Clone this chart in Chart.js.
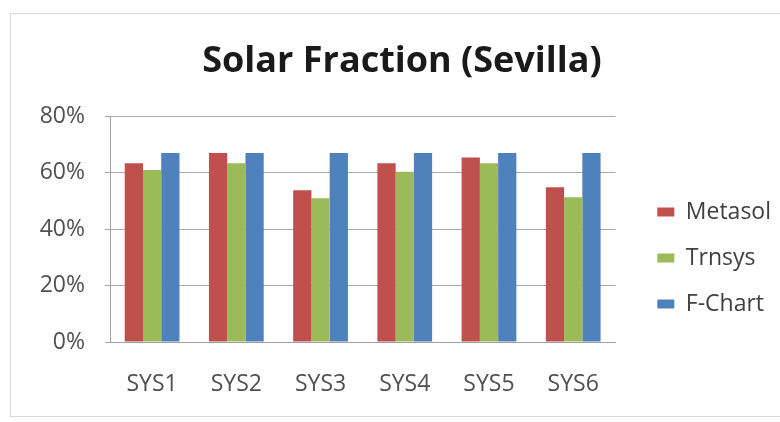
<!DOCTYPE html>
<html>
<head>
<meta charset="utf-8">
<script src="https://cdn.jsdelivr.net/npm/chart.js@4.4.1/dist/chart.umd.min.js"></script>
<style>
  html, body { margin: 0; padding: 0; background: #ffffff; }
  #wrap { position: relative; width: 780px; height: 422px; overflow: hidden; }
  #frame { position: absolute; left: 10px; top: 13px; width: 800px; height: 404px; border: 1px solid #d9d9d9; box-sizing: border-box; }
  #c { position: absolute; left: 0; top: 0; }
</style>
</head>
<body>
<div id="wrap">
  <div id="frame"></div>
  <canvas id="c" width="780" height="422"></canvas>
</div>
<script>
// Solar fraction per system, in percent
const systems = ['SYS1', 'SYS2', 'SYS3', 'SYS4', 'SYS5', 'SYS6'];
const metasol = [63.3, 67, 53.8, 63.3, 65.4, 54.8];
const trnsys = [60.9, 63.3, 50.9, 60.3, 63.3, 51.3];
const fChart = [67, 67, 67, 67, 67, 67];
const yTicks = [0, 20, 40, 60, 80];

const FONT = "'Open Sans', Lato, sans-serif";

// Fine placement of the title and the legend column after layout
const blockOffsets = {
  id: 'blockOffsets',
  afterLayout(chart) {
    const lg = chart.legend;
    if (lg) { lg.left += 19; lg.right += 19; }
    const tb = chart.titleBlock;
    if (tb) { tb.left += 8; tb.right += 8; }
  }
};

new Chart(document.getElementById('c'), {
  type: 'bar',
  data: {
    labels: systems,
    datasets: [
      { label: 'Metasol', data: metasol, backgroundColor: '#C0504D' },
      { label: 'Trnsys', data: trnsys, backgroundColor: '#9BBB59' },
      { label: 'F-Chart', data: fChart, backgroundColor: '#4F81BD' }
    ]
  },
  plugins: [blockOffsets],
  options: {
    responsive: false,
    animation: false,
    devicePixelRatio: 1,
    layout: { padding: { left: 26, right: 18, top: 0, bottom: 25 } },
    datasets: { bar: { categoryPercentage: 0.65, barPercentage: 1.0 } },
    plugins: {
      tooltip: { enabled: false },
      title: {
        display: true,
        text: 'Solar Fraction (Sevilla)',
        color: '#1a1a1a',
        font: { family: FONT, size: 36, weight: 'bold', lineHeight: 1.2 },
        padding: { top: 40, bottom: 33 }
      },
      legend: {
        position: 'right',
        title: { display: true, text: ' ', font: { size: 20, lineHeight: 1.2 }, padding: { top: 47, bottom: 48 } },
        labels: {
          boxWidth: 17,
          boxHeight: 9,
          padding: 23,
          color: '#404040',
          font: { family: FONT, size: 23 }
        }
      }
    },
    scales: {
      x: {
        afterFit: (scale) => { scale.height = 55; },
        grid: { display: false, drawTicks: false },
        border: { display: true, color: '#a0a0a0', width: 1 },
        ticks: { color: '#505050', font: { family: FONT, size: 23 }, padding: 29 }
      },
      y: {
        min: 0,
        max: 80,
        afterBuildTicks: (scale) => { scale.ticks = yTicks.map(v => ({ value: v })); },
        afterFit: (scale) => { scale.width = 84; },
        grid: { color: '#a8a8a8', lineWidth: 1, tickLength: 5 },
        border: { display: true, color: '#a0a0a0', width: 1 },
        ticks: {
          color: '#505050',
          font: { family: FONT, size: 23 },
          padding: 20,
          callback: (v) => v + '%'
        }
      }
    }
  }
});
</script>
</body>
</html>
